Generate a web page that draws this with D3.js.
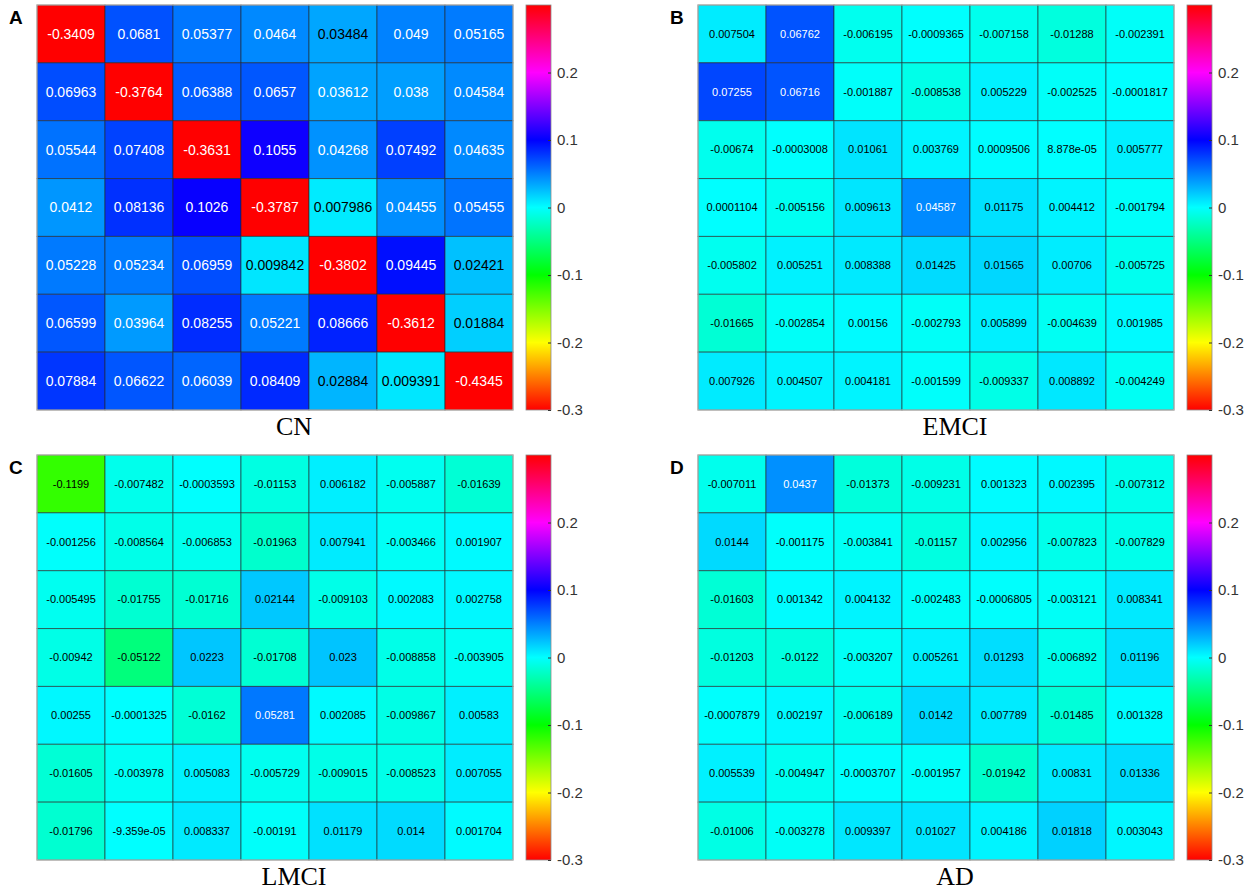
<!DOCTYPE html>
<html>
<head>
<meta charset="utf-8">
<script src="https://cdn.jsdelivr.net/npm/d3@7"></script>
<style>
  body { margin: 0; background: #fff; }
</style>
</head>
<body>
<svg id="fig" width="1248" height="896"></svg>
<script>
// panel values, row by row (7 x 7 each)
var cnValues = [
  [-0.3409, 0.0681, 0.05377, 0.0464, 0.03484, 0.049, 0.05165],
  [0.06963, -0.3764, 0.06388, 0.0657, 0.03612, 0.038, 0.04584],
  [0.05544, 0.07408, -0.3631, 0.1055, 0.04268, 0.07492, 0.04635],
  [0.0412, 0.08136, 0.1026, -0.3787, 0.007986, 0.04455, 0.05455],
  [0.05228, 0.05234, 0.06959, 0.009842, -0.3802, 0.09445, 0.02421],
  [0.06599, 0.03964, 0.08255, 0.05221, 0.08666, -0.3612, 0.01884],
  [0.07884, 0.06622, 0.06039, 0.08409, 0.02884, 0.009391, -0.4345]
];
var emciValues = [
  [0.007504, 0.06762, -0.006195, -0.0009365, -0.007158, -0.01288, -0.002391],
  [0.07255, 0.06716, -0.001887, -0.008538, 0.005229, -0.002525, -0.0001817],
  [-0.00674, -0.0003008, 0.01061, 0.003769, 0.0009506, 8.878e-05, 0.005777],
  [0.0001104, -0.005156, 0.009613, 0.04587, 0.01175, 0.004412, -0.001794],
  [-0.005802, 0.005251, 0.008388, 0.01425, 0.01565, 0.00706, -0.005725],
  [-0.01665, -0.002854, 0.00156, -0.002793, 0.005899, -0.004639, 0.001985],
  [0.007926, 0.004507, 0.004181, -0.001599, -0.009337, 0.008892, -0.004249]
];
var lmciValues = [
  [-0.1199, -0.007482, -0.0003593, -0.01153, 0.006182, -0.005887, -0.01639],
  [-0.001256, -0.008564, -0.006853, -0.01963, 0.007941, -0.003466, 0.001907],
  [-0.005495, -0.01755, -0.01716, 0.02144, -0.009103, 0.002083, 0.002758],
  [-0.00942, -0.05122, 0.0223, -0.01708, 0.023, -0.008858, -0.003905],
  [0.00255, -0.0001325, -0.0162, 0.05281, 0.002085, -0.009867, 0.00583],
  [-0.01605, -0.003978, 0.005083, -0.005729, -0.009015, -0.008523, 0.007055],
  [-0.01796, -9.359e-05, 0.008337, -0.00191, 0.01179, 0.014, 0.001704]
];
var adValues = [
  [-0.007011, 0.0437, -0.01373, -0.009231, 0.001323, 0.002395, -0.007312],
  [0.0144, -0.001175, -0.003841, -0.01157, 0.002956, -0.007823, -0.007829],
  [-0.01603, 0.001342, 0.004132, -0.002483, -0.0006805, -0.003121, 0.008341],
  [-0.01203, -0.0122, -0.003207, 0.005261, 0.01293, -0.006892, 0.01196],
  [-0.0007879, 0.002197, -0.006189, 0.0142, 0.007789, -0.01485, 0.001328],
  [0.005539, -0.004947, -0.0003707, -0.001957, -0.01942, 0.00831, 0.01336],
  [-0.01006, -0.003278, 0.009397, 0.01027, 0.004186, 0.01818, 0.003043]
];

var panelTitles = ["CN", "EMCI", "LMCI", "AD"];
var panelLetters = ["A", "B", "C", "D"];
var colorLimits = [-0.3, 0.3];
var colorTicks = [-0.3, -0.2, -0.1, 0, 0.1, 0.2];

var panels = [
  {values: cnValues, x: 37, y: 5, fontSize: 14},
  {values: emciValues, x: 698, y: 5, fontSize: 11},
  {values: lmciValues, x: 37, y: 455, fontSize: 11},
  {values: adValues, x: 698, y: 455, fontSize: 11}
];

var mapW = 476, mapH = 405;
var svg = d3.select("#fig");

// matlab style hsv colormap
var color = d3.scaleSequential(function (t) { return d3.hsl(t * 360, 1, 0.5) + ""; })
    .domain(colorLimits)
    .clamp(true);

// %.4g like matlab prints it
function fmtG(v) {
    var e = Math.floor(Math.log10(Math.abs(v)));
    if (e < -4) {
        var s = v.toExponential(3).replace(/\.?0+e/, "e");
        return s.replace(/e([+-])(\d)$/, "e$10$2");
    }
    return String(Number(v.toPrecision(4)));
}

function textColor(v) {
    var c = d3.rgb(color(v));
    var lum = (0.2126 * c.r + 0.7152 * c.g + 0.0722 * c.b) / 255;
    return lum < 0.535 ? "#fff" : "#000";
}

var idx = d3.range(7);
var xBand = d3.scaleBand().domain(idx).range([0, mapW]);
var yBand = d3.scaleBand().domain(idx).range([0, mapH]);

// gradient for colorbars
var grad = svg.append("defs").append("linearGradient")
    .attr("id", "cbGrad")
    .attr("x1", 0).attr("y1", 1).attr("x2", 0).attr("y2", 0);
grad.selectAll("stop").data(d3.range(0, 1.0001, 1 / 60)).enter().append("stop")
    .attr("offset", function (d) { return d; })
    .attr("stop-color", function (d) {
        return color(colorLimits[0] + d * (colorLimits[1] - colorLimits[0]));
    });

panels.forEach(function (p, k) {
    var g = svg.append("g").attr("transform", "translate(" + p.x + "," + p.y + ")");

    var cells = [];
    p.values.forEach(function (row, r) {
        row.forEach(function (v, c) { cells.push({r: r, c: c, v: v}); });
    });

    g.selectAll(".cell").data(cells).enter().append("rect")
        .classed("cell", true)
        .attr("x", function (d) { return xBand(d.c); })
        .attr("y", function (d) { return yBand(d.r); })
        .attr("width", xBand.bandwidth())
        .attr("height", yBand.bandwidth())
        .style("fill", function (d) { return color(d.v); })
        .style("stroke", "#262626")
        .style("stroke-opacity", 0.6)
        .style("stroke-width", 1);

    g.selectAll(".cellTxt").data(cells).enter().append("text")
        .classed("cellTxt", true)
        .attr("x", function (d) { return xBand(d.c) + xBand.bandwidth() / 2; })
        .attr("y", function (d) { return yBand(d.r) + yBand.bandwidth() / 2; })
        .attr("dy", ".35em")
        .attr("text-anchor", "middle")
        .style("font", p.fontSize + "px Arial, 'Liberation Sans', sans-serif")
        .style("fill", function (d) { return textColor(d.v); })
        .text(function (d) { return fmtG(d.v); });

    g.append("rect")
        .attr("width", mapW).attr("height", mapH)
        .style("fill", "none")
        .style("stroke", "#c4c0bc")
        .style("stroke-width", 1);

    // colorbar
    var cbX = mapW + 13, cbW = 25;
    var cbScale = d3.scaleLinear().domain(colorLimits).range([mapH, 0]);
    var cb = g.append("g").attr("transform", "translate(" + cbX + ",0)");
    cb.append("rect")
        .attr("width", cbW).attr("height", mapH)
        .style("fill", "url(#cbGrad)")
        .style("stroke", "#8c8c8c")
        .style("stroke-width", 0.8);
    var axis = cb.append("g")
        .attr("transform", "translate(" + cbW + ",0)")
        .call(d3.axisRight(cbScale).tickValues(colorTicks).tickSize(-3).tickPadding(6)
            .tickFormat(function (d) { return d === 0 ? "0" : d.toFixed(1); }));
    axis.select(".domain").remove();
    axis.selectAll("line").style("stroke", "#333");
    axis.selectAll("text")
        .style("font", "15px Arial, 'Liberation Sans', sans-serif")
        .style("fill", "#333");

    // panel title below
    g.append("text")
        .attr("x", 257)
        .attr("y", 430)
        .attr("text-anchor", "middle")
        .style("font", "26px 'Liberation Serif', 'Times New Roman', serif")
        .style("fill", "#000")
        .text(panelTitles[k]);

    // panel letter
    g.append("text")
        .attr("x", -28)
        .attr("y", 19)
        .style("font", "bold 19px Arial, 'Liberation Sans', sans-serif")
        .style("fill", "#000")
        .text(panelLetters[k]);
});
</script>
</body>
</html>
